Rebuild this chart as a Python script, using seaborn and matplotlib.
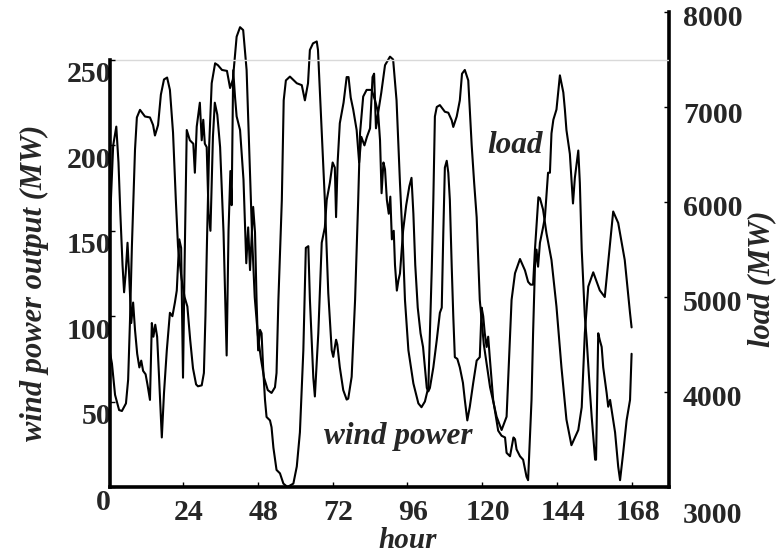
import matplotlib
matplotlib.use("Agg")
import matplotlib.pyplot as plt
import matplotlib.transforms as mtransforms
import numpy as np
import pandas as pd
import seaborn as sns

# ---------------- data ----------------
wind_hours = [0, 0.8, 1.6, 2.6, 3.3, 3.9, 4.6, 5.1, 5.6, 6.2, 6.7, 7.4, 8.0, 8.6, 9.3, 10.0,
              10.6, 11.2, 12.0, 12.6, 13.4, 14.0, 14.5, 15.1, 15.7, 16.3, 17.2, 17.9, 18.8,
              19.8, 20.6, 21.4, 22.0, 22.8, 23.4, 24.0, 24.5, 25.2, 26.2, 27.3, 27.8, 28.4,
              29.4, 30.0, 30.5, 31.0, 31.6, 32.2, 32.8, 33.6, 34.2, 35.0, 35.9, 37.0, 38.0,
              38.6, 39.2, 39.6, 40.1, 40.7, 41.2, 42.3, 43.4, 43.9, 44.3, 44.9, 45.5, 46.5,
              47.1, 47.6, 48.1, 48.7, 49.2, 49.7, 50.3, 50.8, 51.9, 52.4, 53.0, 54.0, 55.1,
              56.2, 57.5, 59.4, 60.5, 61.5, 62.6, 63.4, 64.2, 64.7, 65.8, 66.3, 67.4, 68.5,
              69.5, 70.1, 71.1, 72.0, 72.7, 73.1, 73.6, 74.3, 75.5, 76.5, 77.1, 77.8, 78.6,
              79.7, 80.5, 81.2, 82.2, 83.0, 84.0, 84.8, 85.3, 85.9, 86.6, 87.2, 87.7, 88.3,
              88.8, 89.4, 90.0, 90.5, 91.0, 91.6, 92.0, 92.6, 93.1, 93.6, 94.6, 95.6, 96.6,
              97.3, 97.9, 98.5, 99.3, 100.2, 101.0, 101.6, 102.2, 102.7, 103.2, 104.3, 105.4,
              106.4, 107.0, 107.5, 108.0, 108.6, 109.1, 109.6, 110.2, 110.7, 111.2, 112.0,
              112.8, 113.8, 114.4, 115.2, 116.0, 117.1, 118.2, 119.2, 119.8, 120.3, 120.8,
              121.4, 121.9, 122.4, 123.5, 125.1, 126.2, 127.3, 127.8, 128.9, 130.0, 130.5,
              131.0, 132.1, 133.1, 134.2, 134.7, 135.8, 136.3, 136.9, 137.4, 137.9, 138.5,
              139.5, 140.1, 141.1, 141.7, 142.2, 142.8, 143.8, 144.9, 146.0, 146.5, 147.0,
              148.1, 148.6, 149.1, 149.7, 150.8, 151.3, 151.9, 152.9, 153.5, 154.5, 155.1,
              156.2, 156.5, 157.2, 157.7, 158.3, 158.8, 159.9, 160.4, 161.0, 162.0, 162.6,
              163.6, 164.2, 165.2, 166.3, 167.4, 167.9]
wind_mw = [140, 165, 200, 211, 190, 160, 130, 114, 125, 143, 125, 96, 108, 92, 78, 70,
           74, 68, 66, 60, 51, 96, 88, 95, 88, 65, 29, 55, 80,
           102, 100, 108, 115, 145, 140, 64, 130, 209, 203, 201, 184, 211,
           225, 203, 215, 201, 199, 160, 150, 205, 225, 218, 199, 149, 77,
           150, 185, 165, 244, 228, 217, 209, 180, 152, 131, 152, 127, 164,
           149, 109, 80, 92, 90, 70, 51, 41, 39, 35, 23, 10, 8,
           2, 0, 2, 12, 32, 80, 140, 141, 110, 64, 53, 90, 143,
           152, 168, 178, 190, 187, 158, 190, 213, 225, 240, 240, 228, 221,
           209, 190, 205, 200, 205, 210, 240, 242, 210, 219, 203, 172, 190,
           186, 168, 160, 170, 145, 150, 130, 115, 121, 125, 150, 165, 176,
           181, 160, 130, 105, 90, 82, 70, 58, 56, 58, 70, 86,
           102, 105, 149, 187, 191, 184, 168, 129, 100, 76, 75,
           70, 61, 51, 39, 47, 61, 74, 76, 105, 100, 90,
           82, 88, 76, 51, 33, 30, 29, 20, 18, 29, 28,
           22, 18, 16, 6, 4, 51, 90, 129, 139, 129, 143,
           152, 158, 184, 184, 207, 215, 221, 241, 231, 221, 209,
           195, 181, 166, 181, 197, 178, 139, 100, 86, 57, 41,
           16, 16, 90, 86, 82, 70, 55, 47, 51, 39, 32,
           12, 4, 20, 39, 51, 78]

load_hours = [0, 1.2, 2.2, 3.5, 4.4, 5.7, 6.4, 7.0, 7.6, 8.6, 9.2, 10.2, 11.8, 13.4, 14.4,
              15.0, 16.0, 16.9, 17.9, 18.9, 19.8, 20.8, 21.7, 22.4, 23.5, 24.5, 25.4, 26.3,
              27.2, 28.2, 28.8, 30.0, 30.7, 31.2, 31.7, 32.4, 33.2, 34.3, 35.2, 36.5, 38.1,
              39.1, 40.0, 41.2, 42.3, 43.3, 44.4, 45.3, 46.2, 47.0, 48.0, 49.0, 50.0, 51.2,
              52.4, 53.5, 54.0, 54.6, 55.7, 56.3, 57.0, 58.3, 60.5, 62.1, 63.1, 64.1, 64.7,
              65.7, 66.9, 67.3, 68.5, 69.5, 70.6, 71.7, 72.2, 73.1, 73.5, 74.3, 75.4, 76.5,
              77.0, 78.1, 79.2, 80.2, 80.8, 81.8, 82.9, 84.5, 85.6, 86.6, 87.6, 88.8, 90.4,
              91.4, 92.5, 93.6, 94.6, 95.2, 96.3, 97.9, 99.5, 100.5, 101.6, 102.7, 103.2,
              103.8, 104.3, 104.8, 105.4, 106.4, 108.0, 109.1, 110.2, 110.7, 111.8, 112.8,
              113.5, 114.4, 115.5, 116.6, 117.4, 118.2, 119.2, 120.5, 122.5, 124.6, 126.2,
              127.8, 129.4, 130.5, 132.1, 133.7, 134.7, 135.5, 136.3, 136.9, 138.0, 138.5,
              139.5, 140.6, 142.2, 143.8, 145.4, 147.0, 148.6, 150.8, 151.9, 152.9, 154.0,
              155.6, 157.7, 159.3, 160.9, 162.0, 163.6, 165.7, 167.4, 167.9]
load_mw = [4520, 4300, 3970, 3810, 3800, 3880, 4130, 4760, 5530, 6550, 6890, 6970, 6900, 6890, 6810,
           6700, 6810, 7130, 7290, 7310, 7180, 6730, 6020, 5530, 5200, 5000, 4900, 4550,
           4250, 4080, 4060, 4070, 4200, 4800, 5600, 6600, 7250, 7460, 7440, 7390, 7380,
           7200, 7290, 7740, 7840, 7810, 7390, 6500, 5600, 5000, 4600, 4350, 4150, 4020,
           3990, 4050, 4200, 4970, 6020, 7070, 7280, 7320, 7250, 7230, 7070, 7250, 7600,
           7670, 7690, 7600, 6730, 6020, 5040, 4440, 4370, 4550, 4500, 4260, 4020, 3920,
           3930, 4160, 4970, 6020, 6730, 7110, 7180, 7180, 7070, 6940, 7150, 7440, 7530,
           7500, 7070, 6200, 5500, 4970, 4440, 4090, 3880, 3840, 3900, 4050, 4620,
           5300, 6020, 6900, 7000, 7020, 6950, 6940, 6860, 6790, 6900, 7070,
           7350, 7390, 7280, 6600, 6200, 5840, 4970, 4500, 4050, 3740, 3600,
           3740, 4970, 5250, 5400, 5280, 5160, 5130, 5130, 5500, 6050, 6040,
           5920, 5670, 5390, 4900, 4260, 3710, 3440, 3600, 3840, 4620, 5110,
           5260, 5070, 5000, 5530, 5900, 5780, 5390, 4830, 4680]

hour_ticks = [24, 48, 72, 96, 120, 144, 168]
wind_ticks = [0, 50, 100, 150, 200, 250]
load_ticks = [3000, 4000, 5000, 6000, 7000, 8000]

wind_df = pd.DataFrame({"hour": wind_hours, "wind": wind_mw})
load_df = pd.DataFrame({"hour": load_hours, "load": load_mw})

# ---------------- style ----------------
sns.set_theme(style="white")
plt.rcParams["font.family"] = ["Liberation Serif", "DejaVu Serif"]
plt.rcParams["font.weight"] = "bold"

W, H = 777, 554
DPI = 100
fig = plt.figure(figsize=(W / DPI, H / DPI), dpi=DPI)
fig.patch.set_facecolor("white")

ax_left, ax_right, ax_top, ax_bottom = 110, 669, 12, 487
ax = fig.add_axes([ax_left / W, 1 - ax_bottom / H, (ax_right - ax_left) / W, (ax_bottom - ax_top) / H])
ax2 = ax.twinx()

LINE_W = 1.5
sns.lineplot(data=wind_df, x="hour", y="wind", ax=ax, color="black", lw=LINE_W, estimator=None)
sns.lineplot(data=load_df, x="hour", y="load", ax=ax2, color="black", lw=LINE_W, estimator=None)

# axis ranges: left 0..250 spans y=487..60 px, right 3000..8000 spans 487..12 px
ax.set_xlim(0.58, 179.9)
ax.set_ylim(0, 250 * (ax_bottom - ax_top) / (ax_bottom - 60))
ax2.set_ylim(3000, 8000)

ax.axhline(250, color="#d9d9d9", lw=1.0, zorder=0)

ax.set_xlabel("")
ax.set_ylabel("")
ax2.set_ylabel("")
ax.grid(False)
ax2.grid(False)

SPW = 2.6
for a in (ax, ax2):
    for s in a.spines.values():
        s.set_visible(False)
ax.spines["left"].set_visible(True)
ax.spines["bottom"].set_visible(True)
ax2.spines["right"].set_visible(True)
for s in (ax.spines["left"], ax.spines["bottom"], ax2.spines["right"]):
    s.set_linewidth(SPW)
    s.set_color("black")
ax.spines["left"].set_bounds(0, 250)

ax.set_xticks(hour_ticks)
ax.set_yticks(wind_ticks)
ax2.set_yticks(load_ticks)
ax.set_xticklabels([str(v) for v in hour_ticks])
ax.set_yticklabels([str(v) for v in wind_ticks])
ax2.set_yticklabels([str(v) for v in load_ticks])

FS = 21.5
ax.tick_params(axis="x", direction="in", length=3.5, width=1, color="black",
               labelsize=FS, pad=9, bottom=True)
ax.tick_params(axis="y", direction="in", length=3.5, width=1, color="black",
               labelsize=FS, pad=0, left=True)
ax2.tick_params(axis="y", direction="in", length=3.5, width=1, color="black",
                labelsize=FS, pad=10, right=True)

px = 72.0 / DPI  # points per pixel

def shift(label, dx_px, dy_px):
    label.set_transform(label.get_transform() +
                        mtransforms.ScaledTranslation(dx_px * px / 72.0, -dy_px * px / 72.0,
                                                      fig.dpi_scale_trans))

for t in ax.xaxis.get_major_ticks():
    t.label1.set_fontweight("bold")
    shift(t.label1, 6, 0)
for t in ax.yaxis.get_major_ticks():
    t.label1.set_fontweight("bold")
    shift(t.label1, 1, 12)
load_dy = [26, 4, 4, 4, 6, 4]
for t, dy in zip(ax2.yaxis.get_major_ticks(), load_dy):
    t.label2.set_fontweight("bold")
    shift(t.label2, 0, dy)

TFS = 22
fig.text(408 / W, 1 - 541 / H, "hour", ha="center", va="center",
         fontsize=21, fontweight="bold", fontstyle="italic")
fig.text(34 / W, 1 - 283 / H, "wind power output (MW)", ha="center", va="center",
         rotation=90, fontsize=TFS, fontweight="bold", fontstyle="italic")
fig.text(762 / W, 1 - 279 / H, "load (MW)", ha="center", va="center",
         rotation=90, fontsize=TFS, fontweight="bold", fontstyle="italic")

ax.text(130.5, 6590, "load", transform=ax2.transData, ha="center", va="center",
        fontsize=22.5, fontweight="bold", fontstyle="italic")
ax.text(92.9, 29.3, "wind power", ha="center", va="center",
        fontsize=22.5, fontweight="bold", fontstyle="italic")

ax.set_zorder(2)
ax2.set_zorder(1)
ax.patch.set_visible(False)

fig.savefig("out.png", dpi=DPI, facecolor="white")
